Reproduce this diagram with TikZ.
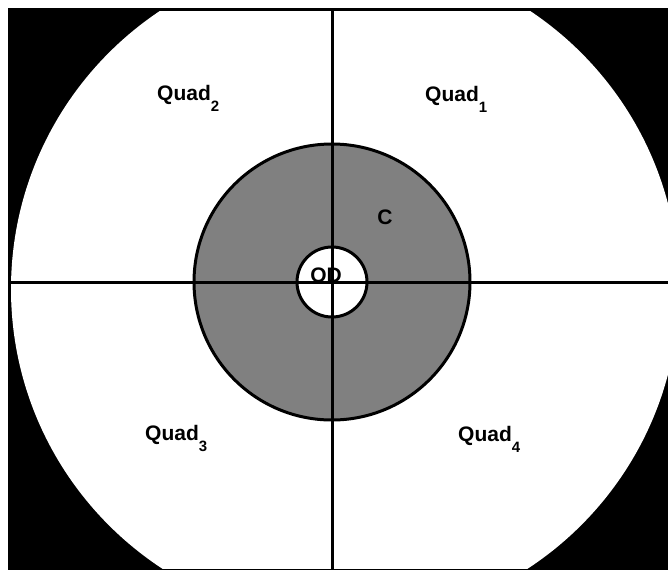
\documentclass[tikz,border=0pt]{standalone}
\usepackage{fontspec}
\setmainfont{Liberation Sans}
\newcommand{\quadsub}[1]{Quad\raisebox{-11pt}{\fontsize{15}{17}\selectfont #1}}
\begin{document}
\begin{tikzpicture}[x = 1pt, y = -1pt,
    label text/.style = {font = \fontsize{21}{24}\selectfont\bfseries,
                         inner sep = 0pt}]
      \useasboundingbox (0,0) rectangle (668,570);
      \fill [black] (8,8) rectangle (668,570);
      \begin{scope}
        \clip (10,11) rectangle (668,568);
        \fill [white] (345,289) circle (334);
      \end{scope}
      \coordinate (o) at (332,282);
      \draw [line width = 3pt, fill = gray] (o) circle (138);
      \draw [line width = 3pt, fill = white] (o) circle (35);
      \coordinate (l) at (10,282);
      \coordinate (r) at (668,282);
      \coordinate (t) at (332,11);
      \coordinate (b) at (332,570);
      \draw [line width = 3pt] (l) -- (r);
      \draw [line width = 3pt] (t) -- (b);
      \node [label text, anchor = base west] (q1) at (425,101) {\quadsub{1}};
      \node [label text, anchor = base west] (q2) at (157,100) {\quadsub{2}};
      \node [label text, anchor = base west] (q3) at (145,440) {\quadsub{3}};
      \node [label text, anchor = base west] (q4) at (458,441) {\quadsub{4}};
      \node [label text, anchor = base] (c) at (385,224) {C};
      \node [label text, anchor = base] (od) at (326,282) {OD};
    \end{tikzpicture}
\end{document}
